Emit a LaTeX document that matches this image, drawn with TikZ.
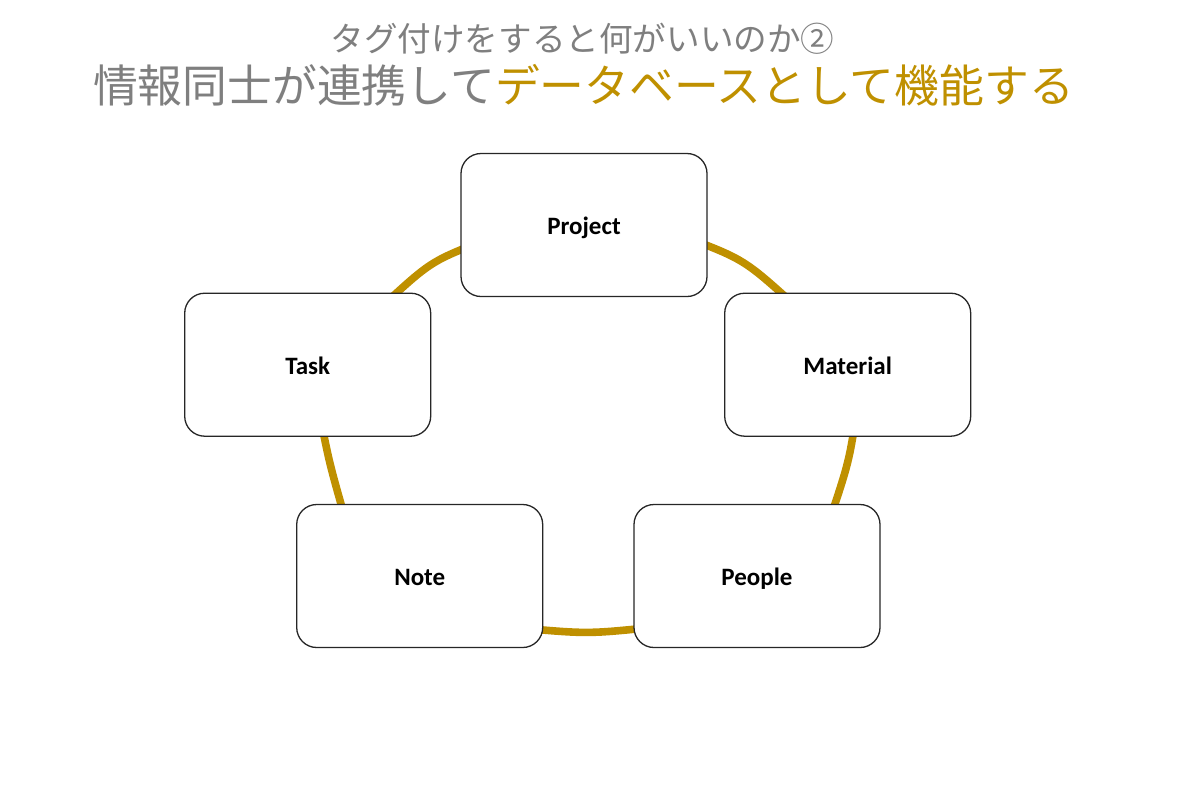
\documentclass[tikz,border=0pt]{standalone}
\usepackage{fontspec}
\setmainfont{Carlito}
\newfontfamily\jpfont{Noto Sans CJK JP}
\definecolor{ringgold}{HTML}{BF9000}
\definecolor{titlegray}{HTML}{7F7F7F}
\tikzset{
  box/.style={draw=black!85, line width=0.65pt, fill=white, rounded corners=10pt,
    minimum width=123pt, minimum height=71.5pt, inner sep=0pt,
    text height=9.5pt, text depth=0pt,
    font=\fontsize{12.5pt}{14pt}\selectfont\bfseries},
  ring/.style={draw=ringgold, line width=3.8pt},
  titleA/.style={font=\jpfont\fontsize{16.8pt}{18pt}\selectfont, text=titlegray, inner sep=0pt},
  titleB/.style={font=\jpfont\fontsize{22.4pt}{24pt}\selectfont, text=titlegray, inner sep=0pt}
}
\begin{document}
\begin{tikzpicture}[x=0.5pt,y=-0.5pt]
\useasboundingbox (0,0) rectangle (1200,799);
% ring segments (behind the boxes)
\coordinate (r1a) at (480,242);  \coordinate (r1b) at (378,310);
\coordinate (r2a) at (688,238);  \coordinate (r2b) at (800,310);
\coordinate (r3a) at (319,410);  \coordinate (r3b) at (347,525);
\coordinate (r4a) at (857,410);  \coordinate (r4b) at (828,525);
\coordinate (r5a) at (520,628);  \coordinate (r5b) at (656,627);
\draw[ring] (r1a) .. controls (430,262) .. (r1b);
\draw[ring] (r2a) .. controls (745,260) .. (r2b);
\draw[ring] (r3a) .. controls (329,462) .. (r3b);
\draw[ring] (r4a) .. controls (849,462) .. (r4b);
\draw[ring] (r5a) .. controls (588,634) .. (r5b);
% boxes
\node[box] (proj) at (584,225) {Project};
\node[box] (mat) at (847.7,364.7) {Material};
\node[box] (task) at (307.7,364.7) {Task};
\node[box] (note) at (419.7,576) {Note};
\node[box] (people) at (757,576) {People};
% titles
\node[titleA] (t1) at (582.5,39) {タグ付けをすると何がいいのか②};
\node[titleB] (t2) at (583.5,85) {情報同士が連携して\textcolor{ringgold}{データベースとして機能する}};
\end{tikzpicture}
\end{document}
